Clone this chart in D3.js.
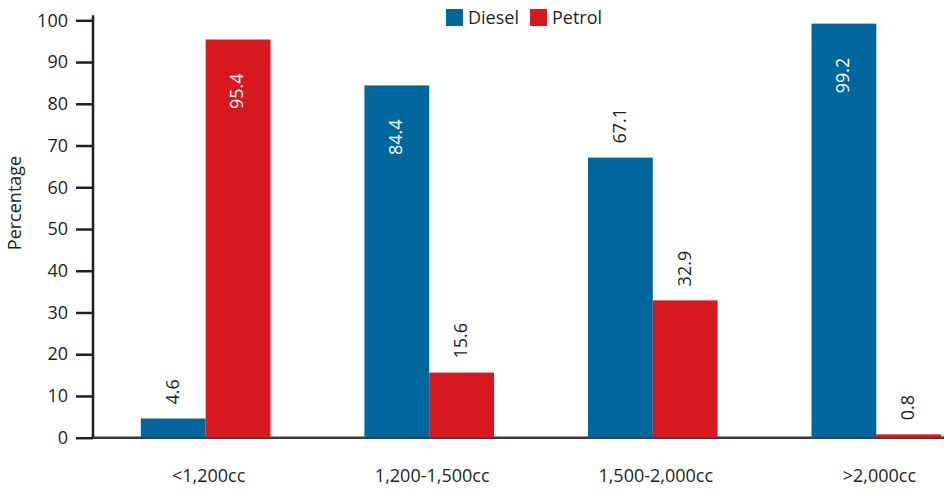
<!DOCTYPE html>
<html>
<head>
<meta charset="utf-8">
<script src="https://cdn.jsdelivr.net/npm/d3@7"></script>
<style>
  body { margin: 0; background: #fff; }
  svg text { font-family: "Open Sans", "Noto Sans", sans-serif; fill: #231f20; }
  .axis path, .axis line { stroke: #231f20; stroke-width: 2.5; }
</style>
</head>
<body>
<div id="chart"></div>
<script>
var categories = ["<1,200cc", "1,200-1,500cc", "1,500-2,000cc", ">2,000cc"];
var seriesNames = ["Diesel", "Petrol"];
var diesel = [4.6, 84.4, 67.1, 99.2];
var petrol = [95.4, 15.6, 32.9, 0.8];
var yTicks = [0, 10, 20, 30, 40, 50, 60, 70, 80, 90, 100];
var colors = { Diesel: "#00669b", Petrol: "#d7191f" };

var width = 944, height = 491;

var rows = categories.map(function(c, i) {
  return { cat: c, values: [
    { key: "Diesel", value: diesel[i] },
    { key: "Petrol", value: petrol[i] }
  ]};
});

var svg = d3.select("#chart").append("svg")
  .attr("width", width)
  .attr("height", height);

var x0 = d3.scaleBand().domain(categories)
  .range([93, 989]).paddingInner(0.42).paddingOuter(0.214);
var x1 = d3.scaleBand().domain(seriesNames).range([0, x0.bandwidth()]);
var y = d3.scaleLinear().domain([0, 100]).range([437.7, 20.3]);

// x axis line
svg.append("line")
  .attr("x1", 93).attr("x2", 991)
  .attr("y1", y(0)).attr("y2", y(0))
  .style("stroke", "#3a3a3a").style("stroke-width", 2.5);

// bars
var groups = svg.selectAll(".grp")
  .data(rows)
  .enter().append("g")
  .attr("class", "grp")
  .attr("transform", function(d) { return "translate(" + x0(d.cat) + ",0)"; });

groups.selectAll("rect")
  .data(function(d) { return d.values; })
  .enter().append("rect")
  .attr("x", function(d) { return x1(d.key); })
  .attr("y", function(d) { return y(d.value); })
  .attr("width", x1.bandwidth())
  .attr("height", function(d) { return y(0) - y(d.value); })
  .attr("fill", function(d) { return colors[d.key]; });

// value labels
groups.selectAll(".val")
  .data(function(d) { return d.values; })
  .enter().append("text")
  .attr("class", "val")
  .attr("transform", function(d) {
    var cx = x1(d.key) + x1.bandwidth() / 2 - 1;
    var ty = d.value > 80 ? y(d.value) + 34 : y(d.value) - 14;
    return "translate(" + cx + "," + ty + ") rotate(-90)";
  })
  .attr("text-anchor", function(d) { return d.value > 80 ? "end" : "start"; })
  .attr("dy", "0.35em")
  .style("font-size", "18px")
  .style("fill", function(d) { return d.value > 80 ? "#fff" : "#231f20"; })
  .text(function(d) { return d3.format(".1f")(d.value); });

// y axis
var yAxis = svg.append("g")
  .attr("class", "axis")
  .attr("transform", "translate(93,0)")
  .call(d3.axisLeft(y).tickValues(yTicks).tickSize(17).tickPadding(8).tickSizeOuter(0));
yAxis.select(".domain").attr("d", "M0," + (y(100) - 5) + "V" + y(0));
yAxis.selectAll("text").style("font-size", "18px").style("fill", "#231f20");

// category labels
svg.selectAll(".cat")
  .data(categories)
  .enter().append("text")
  .attr("class", "cat")
  .attr("x", function(d) { return x0(d) + x0.bandwidth() / 2 + 3; })
  .attr("y", 482)
  .attr("text-anchor", "middle")
  .style("font-size", "18px")
  .text(function(d) { return d; });

// y axis title
svg.append("text")
  .attr("transform", "translate(21,203) rotate(-90)")
  .attr("text-anchor", "middle")
  .style("font-size", "18px")
  .text("Percentage");

// legend
var legend = svg.append("g").attr("transform", "translate(446,9)");
var lx = [0, 84];
seriesNames.forEach(function(s, i) {
  var g = legend.append("g").attr("transform", "translate(" + lx[i] + ",0)");
  g.append("rect").attr("width", 17).attr("height", 17).attr("fill", colors[s]);
  g.append("text").attr("x", 22).attr("y", 15)
    .style("font-size", "18px").text(s);
});
</script>
</body>
</html>
